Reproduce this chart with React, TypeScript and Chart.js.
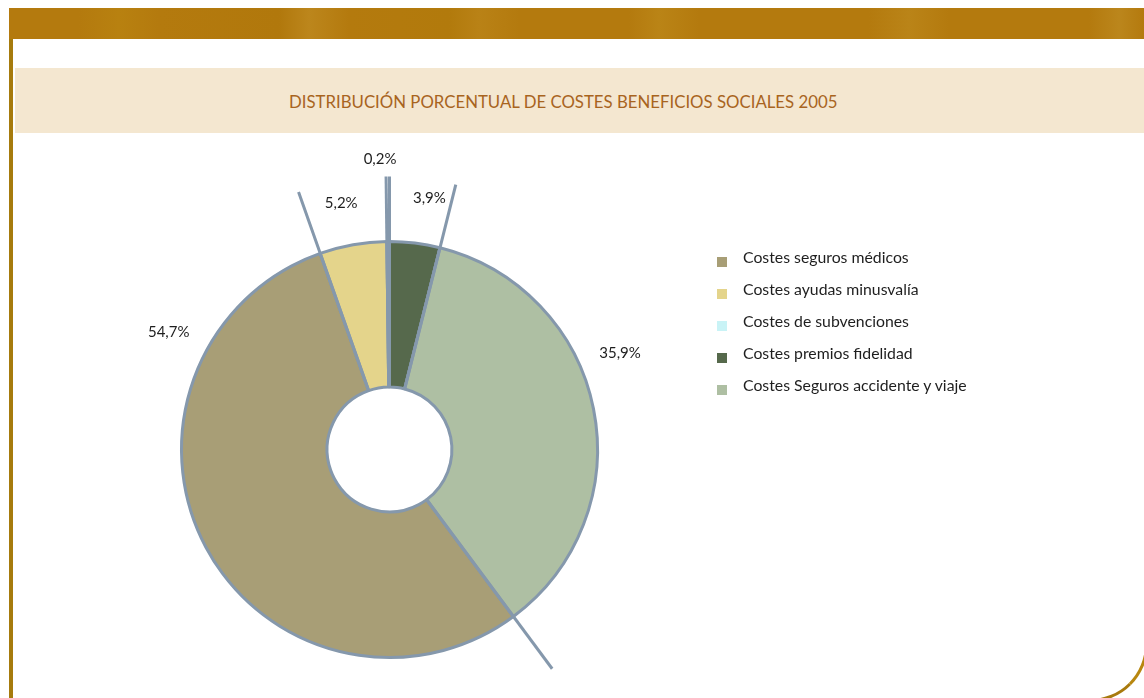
import React, { useEffect, useRef } from "react";
import { Chart, registerables } from "chart.js";

Chart.register(...registerables);

const categories = [
  "Costes seguros médicos",
  "Costes ayudas minusvalía",
  "Costes de subvenciones",
  "Costes premios fidelidad",
  "Costes Seguros accidente y viaje",
];
const legendTexts = [
  "Costes seguros médicos",
  "Costes ayudas minusvalía",
  "Costes de subvenciones",
  "Costes premios fidelidad",
  "Costes Seguros accidente y viaje",
];
const values = [54.7, 5.2, 0.2, 3.9, 35.9];
const valueLabels = ["54,7%", "5,2%", "0,2%", "3,9%", "35,9%"];
const colors = ["#a89e76", "#e4d48b", "#c9f3f6", "#56694c", "#aebfa3"];

const FONT = "Lato, 'Liberation Sans', sans-serif";
const BORDER = "#8598ac";

// label layout tweaks (angle shift in degrees, distance outside the ring)
const labelAngleShift = [56, -1, -1.5, 2, -11.5];
const labelGap = [42, 43, 82, 46, 42];

const extendLinesPlugin = {
  id: "extendLines",
  afterDatasetsDraw(chart: any) {
    const meta = chart.getDatasetMeta(0);
    const ctx = chart.ctx;
    ctx.save();
    ctx.strokeStyle = BORDER;
    ctx.lineWidth = 3;
    ctx.lineCap = "butt";
    meta.data.forEach((arc: any) => {
      const { x, y, startAngle, innerRadius, outerRadius } = arc.getProps(
        ["x", "y", "startAngle", "innerRadius", "outerRadius"],
        true
      );
      const r2 = outerRadius + 65;
      ctx.beginPath();
      ctx.moveTo(x + Math.cos(startAngle) * innerRadius, y + Math.sin(startAngle) * innerRadius);
      ctx.lineTo(x + Math.cos(startAngle) * r2, y + Math.sin(startAngle) * r2);
      ctx.stroke();
    });
    ctx.restore();
  },
};

const valueLabelPlugin = {
  id: "valueLabels",
  afterDatasetsDraw(chart: any) {
    const meta = chart.getDatasetMeta(0);
    const ctx = chart.ctx;
    ctx.save();
    ctx.fillStyle = "#1e1e1e";
    ctx.font = `15px ${FONT}`;
    ctx.textAlign = "center";
    ctx.textBaseline = "middle";
    meta.data.forEach((arc: any, i: number) => {
      const { x, y, startAngle, endAngle, outerRadius } = arc.getProps(
        ["x", "y", "startAngle", "endAngle", "outerRadius"],
        true
      );
      const mid = (startAngle + endAngle) / 2 + (labelAngleShift[i] * Math.PI) / 180;
      const r = outerRadius + labelGap[i];
      ctx.fillText(valueLabels[i], x + Math.cos(mid) * r, y + Math.sin(mid) * r);
    });
    ctx.restore();
  },
};

export default function App() {
  const canvasRef = useRef<HTMLCanvasElement | null>(null);

  useEffect(() => {
    document.body.style.margin = "0";
    const total = values.reduce((a, b) => a + b, 0);
    const before = values[0] + values[1] + values[2];
    const rotation = 360 - (before / total) * 360;
    const chart = new Chart(canvasRef.current as HTMLCanvasElement, {
      type: "doughnut",
      data: {
        labels: categories,
        datasets: [
          {
            data: values,
            backgroundColor: colors,
            borderColor: BORDER,
            borderWidth: 3,
          },
        ],
      },
      options: {
        animation: false,
        responsive: false,
        maintainAspectRatio: false,
        rotation,
        cutout: "30%",
        layout: { padding: { left: 180, right: 545, top: 240, bottom: 39 } },
        plugins: {
          legend: { display: false },
          tooltip: { enabled: false },
          title: { display: false },
        },
      },
      plugins: [extendLinesPlugin, valueLabelPlugin],
    });
    return () => chart.destroy();
  }, []);

  return (
    <div style={{ position: "relative", width: 1144, height: 698, overflow: "hidden", background: "#fff", fontFamily: FONT }}>
      {/* frame */}
      <div
        style={{
          position: "absolute",
          left: 9,
          top: 8,
          width: 1132,
          height: 691,
          borderLeft: "4px solid #a67b0d",
          borderRight: "3px solid #b8870f",
          borderBottom: "3px solid #a87a0d",
          borderBottomRightRadius: 58,
          background: "#fff",
        }}
      />
      {/* top band */}
      <div
        style={{
          position: "absolute",
          left: 9,
          top: 8,
          width: 1135,
          height: 31,
          background:
            "linear-gradient(90deg, #b47a0e 0px, #b47a0e 70px, #b88110 110px, #b47a0e 150px, #b1780c 270px, #bc861c 300px, #b47a0e 340px, #b27a0c 440px, #b98216 470px, #b47a0e 510px, #b47a0e 620px, #ba8416 650px, #b47a0e 690px, #b47a0e 860px, #ba8418 900px, #b47a0e 940px, #b47a0e 1080px, #bb861c 1110px, #b47a0e 1135px)",
        }}
      />
      {/* title band */}
      <div
        style={{
          position: "absolute",
          left: 15,
          top: 68,
          width: 1129,
          height: 65,
          background: "#f4e7d0",
        }}
      />
      <div
        style={{
          position: "absolute",
          left: 289,
          top: 91,
          width: 560,
          fontSize: 16.8,
          lineHeight: "22px",
          color: "#a8641e",
          whiteSpace: "nowrap",
          letterSpacing: 0,
        }}
      >
        DISTRIBUCIÓN PORCENTUAL DE COSTES BENEFICIOS SOCIALES 2005
      </div>
      <canvas
        ref={canvasRef}
        width={1144}
        height={698}
        style={{ position: "absolute", left: 0, top: 0, width: 1144, height: 698 }}
      />
      {/* legend */}
      <div style={{ position: "absolute", left: 717, top: 246 }}>
        {legendTexts.map((t, i) => (
          <div key={t} style={{ display: "flex", alignItems: "center", height: 32, whiteSpace: "nowrap" }}>
            <span style={{ display: "inline-block", width: 10, height: 10, background: colors[i], marginRight: 16 }} />
            <span style={{ fontSize: 15.8, color: "#1e1e1e", lineHeight: "20px", marginTop: -10 }}>{t}</span>
          </div>
        ))}
      </div>
    </div>
  );
}
